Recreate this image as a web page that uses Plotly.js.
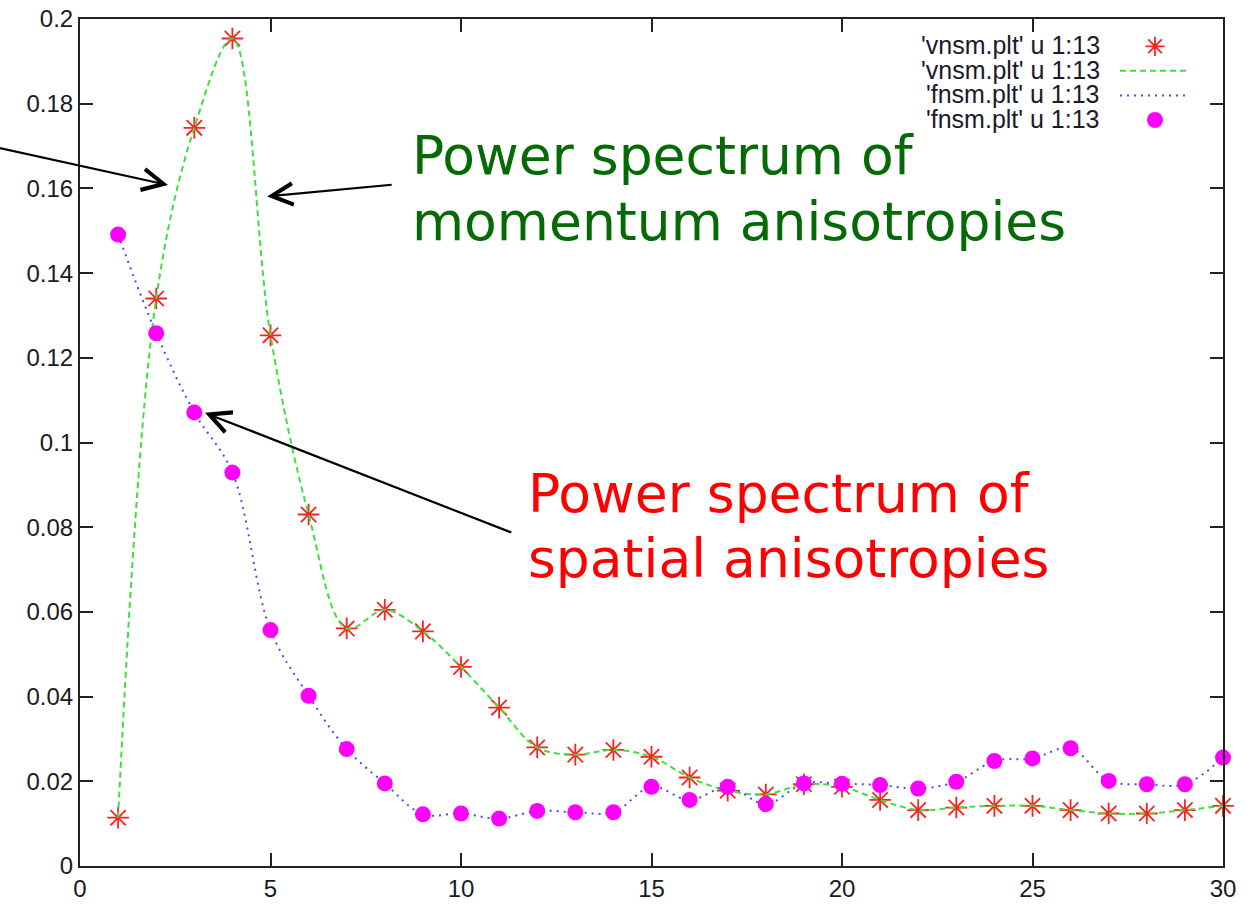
<!DOCTYPE html>
<html>
<head>
<meta charset="utf-8">
<script src="https://cdn.plot.ly/plotly-3.0.1.min.js"></script>
<style>
  html, body { margin: 0; padding: 0; background: #ffffff; }
  #chart { width: 1250px; height: 907px; }
</style>
</head>
<body>
<div id="chart"></div>
<script>
// Mode number (column 1) for both spectra
const modes = [1, 2, 3, 4, 5, 6, 7, 8, 9, 10, 11, 12, 13, 14, 15,
               16, 17, 18, 19, 20, 21, 22, 23, 24, 25, 26, 27, 28, 29, 30];

// Momentum anisotropy power spectrum ('vnsm.plt', column 13)
const vnsm = [0.0114, 0.1340, 0.1743, 0.1954, 0.1253, 0.0830, 0.0561, 0.0605, 0.0554, 0.0470,
              0.0374, 0.0280, 0.0263, 0.0274, 0.0258, 0.0209, 0.0178, 0.0169, 0.0193, 0.0187,
              0.0156, 0.0132, 0.0138, 0.0142, 0.0142, 0.0132, 0.0124, 0.0124, 0.0132, 0.0142];

// Spatial anisotropy power spectrum ('fnsm.plt', column 13)
const fnsm = [0.1491, 0.1258, 0.1071, 0.0929, 0.0557, 0.0402, 0.0276, 0.0195, 0.0122, 0.0124,
              0.0112, 0.0130, 0.0127, 0.0127, 0.0187, 0.0156, 0.0187, 0.0146, 0.0195, 0.0194,
              0.0191, 0.0183, 0.0199, 0.0248, 0.0254, 0.0278, 0.0201, 0.0193, 0.0193, 0.0256];

// Key labels, one per plotted item
const keyLabels = ["'vnsm.plt' u 1:13", "'vnsm.plt' u 1:13", "'fnsm.plt' u 1:13", "'fnsm.plt' u 1:13"];

// Axis ticks
const xTickVals = [0, 5, 10, 15, 20, 25, 30];
const xTickText = ['0', '5', '10', '15', '20', '25', '30'];
const yTickVals = [0, 0.02, 0.04, 0.06, 0.08, 0.1, 0.12, 0.14, 0.16, 0.18, 0.2];
const yTickText = ['0', '0.02', '0.04', '0.06', '0.08', '0.1', '0.12', '0.14', '0.16', '0.18', '0.2'];

// Callout labels
const momentumLabel = ['Power spectrum of', 'momentum anisotropies'];
const spatialLabel = ['Power spectrum of', 'spatial anisotropies'];

const AXIS_COLOR = '#222222';
const TICK_FONT = { family: 'Liberation Sans, Arial, sans-serif', size: 24, color: '#1a1a22' };

const traces = [
  {
    x: modes, y: vnsm, type: 'scatter', mode: 'markers', name: '',
    marker: { symbol: 'asterisk-open', size: 18, color: '#ff2020',
              line: { color: '#ff2020', width: 1.8 } },
    cliponaxis: false
  },
  {
    x: modes, y: vnsm, type: 'scatter', mode: 'lines', name: '',
    line: { color: '#3ee03e', width: 2, dash: '6px,4px', shape: 'spline', smoothing: 1 }
  },
  {
    x: modes, y: fnsm, type: 'scatter', mode: 'lines', name: '',
    line: { color: '#4a4aff', width: 2, dash: '2px,5px', shape: 'spline', smoothing: 1 }
  },
  {
    x: modes, y: fnsm, type: 'scatter', mode: 'markers', name: '',
    marker: { symbol: 'circle', size: 16, color: '#ff00ff' },
    cliponaxis: false
  }
];

// Key text sits to the left of the legend symbols
const keyRowsY = [0.9693, 0.9398, 0.9115, 0.8819];
const keyText = keyLabels.map((t, i) => ({
  text: t, xref: 'paper', yref: 'paper', x: 0.894, y: keyRowsY[i],
  xanchor: 'right', yanchor: 'middle', showarrow: false,
  font: { family: 'Liberation Sans, Arial, sans-serif', size: 25, color: '#1a1a2a' }
}));

function calloutLine(text, x, y, color) {
  return {
    text: text, xref: 'paper', yref: 'paper', x: x, y: y,
    xanchor: 'left', yanchor: 'middle', showarrow: false,
    font: { family: 'DejaVu Sans, Verdana, sans-serif', size: 53.5, color: color }
  };
}

function arrow(xHead, yHead, xTail, yTail) {
  return {
    text: '', x: xHead, y: yHead, ax: xTail, ay: yTail,
    xref: 'x', yref: 'y', axref: 'x', ayref: 'y',
    showarrow: true, arrowhead: 5, arrowsize: 1.9, arrowwidth: 2.2,
    arrowcolor: '#000000', standoff: 0
  };
}

const annotations = keyText.concat([
  calloutLine(momentumLabel[0], 0.2890, 0.8383, '#056905'),
  calloutLine(momentumLabel[1], 0.2890, 0.7615, '#056905'),
  calloutLine(spatialLabel[0], 0.3905, 0.4392, '#ff0000'),
  calloutLine(spatialLabel[1], 0.3905, 0.3625, '#ff0000'),
  arrow(2.31, 0.1608, -2.2, 0.1697),
  arrow(4.91, 0.1581, 8.22, 0.1609),
  arrow(3.28, 0.1070, 11.36, 0.0786)
]);

const axisBase = {
  showgrid: false, zeroline: false,
  showline: true, linecolor: AXIS_COLOR, linewidth: 2, mirror: 'ticks',
  ticks: 'inside', ticklen: 13, tickwidth: 2, tickcolor: AXIS_COLOR,
  tickfont: TICK_FONT, fixedrange: true
};

const layout = {
  width: 1250, height: 907,
  margin: { l: 80, r: 27, t: 19, b: 41, pad: 0 },
  paper_bgcolor: '#ffffff', plot_bgcolor: '#ffffff',
  xaxis: Object.assign({}, axisBase, {
    range: [0, 30], tickmode: 'array', tickvals: xTickVals, ticktext: xTickText
  }),
  yaxis: Object.assign({}, axisBase, {
    range: [0, 0.2], tickmode: 'array', tickvals: yTickVals, ticktext: yTickText
  }),
  showlegend: true,
  legend: {
    x: 0.9055, y: 0.9882, xanchor: 'left', yanchor: 'top',
    bgcolor: 'rgba(0,0,0,0)', borderwidth: 0,
    itemwidth: 70, tracegroupgap: 0,
    font: { family: 'Liberation Sans, Arial, sans-serif', size: 16.6, color: '#1a1a2a' }
  },
  annotations: annotations
};

Plotly.newPlot('chart', traces, layout, { staticPlot: true, displayModeBar: false });
</script>
</body>
</html>
